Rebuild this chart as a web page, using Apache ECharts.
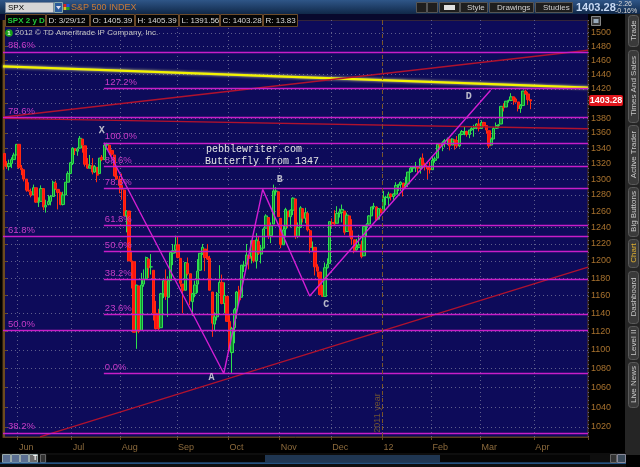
<!DOCTYPE html>
<html><head><meta charset="utf-8">
<script src="https://cdn.jsdelivr.net/npm/echarts@6/dist/echarts.min.js"></script>
<style>html,body{margin:0;padding:0;background:#000;}#c{width:640px;height:467px;}</style>
</head><body><div id="c"></div><script>
// ---- DATA: daily SPX rows [day, open, high, low, close] ----
const may2011=[[23,1333,1333,1312,1317],[24,1317,1323,1313,1316],[25,1316,1325,1311,1320],[26,1320,1328,1314,1325],[27,1325,1334,1325,1331],[31,1331,1345,1331,1345]];
const jun2011=[[1,1345,1345,1313,1315],[2,1314,1318,1305,1312],[3,1312,1312,1297,1300],[6,1300,1300,1284,1286],[7,1286,1296,1284,1285],[8,1284,1288,1277,1280],[9,1280,1293,1280,1289],[10,1289,1289,1270,1271],[13,1271,1277,1265,1271],[14,1272,1292,1272,1288],[15,1288,1288,1261,1265],[16,1265,1274,1258,1267],[17,1268,1280,1267,1272],[20,1272,1280,1267,1278],[21,1278,1298,1278,1296],[22,1295,1298,1286,1288],[23,1287,1287,1262,1283],[24,1283,1284,1267,1268],[27,1268,1284,1267,1280],[28,1280,1296,1280,1296],[29,1296,1310,1296,1307],[30,1307,1322,1307,1321]];
const jul2011=[[1,1320,1341,1318,1340],[5,1339,1340,1331,1337],[6,1336,1341,1330,1339],[7,1340,1356,1340,1353],[8,1352,1352,1334,1344],[11,1343,1343,1316,1319],[12,1319,1327,1313,1314],[13,1314,1331,1314,1317],[14,1317,1327,1306,1309],[15,1309,1318,1308,1316],[18,1315,1315,1296,1305],[19,1307,1327,1307,1327],[20,1328,1331,1323,1325],[21,1325,1347,1325,1344],[22,1344,1347,1338,1345],[25,1344,1344,1331,1337],[26,1337,1338,1330,1332],[27,1331,1331,1303,1304],[28,1304,1316,1299,1300],[29,1300,1304,1282,1292]];
const aug2011=[[1,1292,1307,1274,1287],[2,1286,1287,1254,1254],[3,1254,1261,1234,1260],[4,1260,1260,1200,1200],[5,1200,1212,1168,1199],[8,1199,1199,1119,1119],[9,1121,1172,1101,1172],[10,1171,1171,1118,1120],[11,1121,1186,1121,1172],[12,1173,1190,1170,1179],[15,1179,1205,1179,1204],[16,1202,1203,1180,1192],[17,1193,1208,1184,1193],[18,1189,1189,1132,1140],[19,1140,1154,1122,1123],[22,1124,1145,1121,1123],[23,1124,1163,1124,1162],[24,1162,1178,1157,1177],[25,1177,1190,1155,1159],[26,1158,1182,1136,1177],[29,1177,1210,1177,1210],[30,1209,1220,1195,1212],[31,1213,1230,1209,1219]];
const sep2011=[[1,1219,1229,1203,1204],[2,1203,1203,1170,1174],[6,1173,1173,1140,1166],[7,1166,1198,1166,1198],[8,1197,1204,1183,1185],[9,1185,1185,1149,1154],[12,1153,1163,1137,1162],[13,1162,1177,1158,1172],[14,1173,1202,1163,1188],[15,1189,1209,1189,1209],[16,1209,1220,1207,1216],[19,1214,1214,1188,1204],[20,1205,1220,1201,1202],[21,1203,1206,1166,1166],[22,1164,1164,1114,1129],[23,1128,1141,1121,1136],[26,1136,1164,1132,1162],[27,1163,1195,1163,1175],[28,1175,1184,1150,1151],[29,1151,1175,1140,1160],[30,1159,1159,1131,1131]];
const oct2011=[[3,1131,1138,1099,1099],[4,1097,1125,1075,1123],[5,1124,1146,1107,1144],[6,1144,1165,1134,1164],[7,1166,1171,1150,1155],[10,1158,1195,1158,1195],[11,1194,1200,1187,1195],[12,1196,1220,1196,1207],[13,1206,1207,1190,1203],[14,1205,1224,1197,1224],[17,1224,1224,1198,1200],[18,1200,1233,1191,1225],[19,1223,1229,1207,1209],[20,1208,1219,1197,1215],[21,1215,1239,1215,1238],[24,1239,1256,1239,1254],[25,1252,1252,1226,1229],[26,1230,1246,1221,1242],[27,1244,1293,1244,1285],[28,1284,1290,1280,1285],[31,1284,1284,1253,1253]];
const nov2011=[[1,1251,1251,1215,1219],[2,1219,1242,1219,1237],[3,1238,1264,1228,1262],[4,1260,1260,1239,1253],[7,1253,1262,1240,1261],[8,1261,1277,1255,1276],[9,1275,1275,1226,1229],[10,1229,1246,1227,1240],[11,1240,1266,1240,1264],[14,1263,1263,1246,1251],[15,1251,1264,1245,1258],[16,1257,1259,1235,1237],[17,1236,1238,1209,1216],[18,1216,1223,1211,1216],[21,1216,1216,1183,1193],[22,1193,1196,1181,1188],[23,1187,1187,1161,1161],[25,1162,1172,1159,1159],[28,1159,1198,1159,1192],[29,1192,1203,1191,1196],[30,1197,1247,1197,1247]];
const dec2011=[[1,1246,1251,1240,1245],[2,1246,1261,1243,1244],[5,1245,1266,1245,1257],[6,1257,1263,1252,1259],[7,1258,1268,1246,1262],[8,1260,1260,1231,1234],[9,1235,1258,1235,1255],[12,1254,1254,1228,1236],[13,1236,1250,1219,1226],[14,1225,1225,1209,1212],[15,1213,1226,1212,1216],[16,1216,1231,1215,1219],[19,1219,1224,1203,1205],[20,1206,1242,1206,1241],[21,1241,1245,1229,1243],[22,1244,1255,1243,1254],[23,1254,1265,1254,1265],[27,1265,1270,1262,1266],[28,1265,1266,1248,1249],[29,1250,1263,1250,1263],[30,1262,1264,1257,1258]];
const jan2012=[[3,1259,1285,1259,1277],[4,1277,1279,1267,1277],[5,1276,1284,1266,1281],[6,1281,1282,1273,1278],[9,1278,1282,1274,1281],[10,1281,1296,1281,1292],[11,1292,1294,1285,1293],[12,1293,1297,1285,1296],[13,1295,1295,1278,1289],[17,1291,1303,1290,1293],[18,1294,1309,1290,1309],[19,1309,1316,1308,1314],[20,1314,1315,1309,1315],[23,1315,1322,1309,1316],[24,1315,1315,1306,1314],[25,1314,1328,1307,1326],[26,1327,1333,1314,1318],[27,1318,1321,1311,1316],[30,1316,1316,1300,1313],[31,1314,1322,1307,1312]];
const feb2012=[[1,1312,1330,1312,1324],[2,1324,1329,1321,1326],[3,1327,1345,1327,1345],[6,1344,1345,1338,1344],[7,1344,1349,1336,1347],[8,1348,1352,1341,1350],[9,1350,1354,1344,1352],[10,1352,1352,1337,1343],[13,1344,1353,1344,1352],[14,1351,1351,1338,1350],[15,1350,1356,1340,1343],[16,1343,1359,1341,1358],[17,1358,1364,1357,1362],[21,1362,1368,1357,1362],[22,1362,1363,1355,1358],[23,1358,1364,1353,1364],[24,1364,1368,1363,1366],[27,1366,1371,1355,1368],[28,1368,1373,1365,1372],[29,1372,1379,1362,1366]];
const mar2012=[[1,1366,1377,1366,1374],[2,1374,1375,1368,1370],[5,1370,1370,1359,1364],[6,1363,1363,1340,1343],[7,1344,1354,1344,1352],[8,1352,1368,1352,1366],[9,1366,1374,1366,1370],[12,1370,1372,1366,1371],[13,1372,1396,1372,1396],[14,1395,1400,1389,1394],[15,1395,1403,1395,1403],[16,1404,1405,1401,1404],[19,1404,1414,1403,1409],[20,1409,1409,1398,1405],[21,1406,1408,1401,1402],[22,1402,1402,1389,1393],[23,1393,1399,1387,1397],[26,1397,1417,1397,1417],[27,1417,1419,1412,1413],[28,1413,1416,1398,1405],[29,1405,1405,1392,1403.28]];
const futureDates=['2012-03-30','2012-04-02','2012-04-03','2012-04-04','2012-04-05','2012-04-09','2012-04-10','2012-04-11','2012-04-12','2012-04-13','2012-04-16','2012-04-17','2012-04-18','2012-04-19','2012-04-20','2012-04-23','2012-04-24','2012-04-25','2012-04-26','2012-04-27','2012-04-30','2012-05-01','2012-05-02'];
const yTicks=[1020,1040,1060,1080,1100,1120,1140,1160,1180,1200,1220,1240,1260,1280,1300,1320,1340,1360,1380,1400,1420,1440,1460,1480,1500];
const monthNames=['Jan','Feb','Mar','Apr','May','Jun','Jul','Aug','Sep','Oct','Nov','Dec'];
// Fibonacci levels
const fibLeftPct=['88.6%','78.6%','61.8%','50.0%','38.2%'];
const fibLeftPrice=[1472.43,1381.5,1228.74,1121.44,1014.14];
const fibRightPct=['127.2%','100.0%','88.6%','78.6%','61.8%','50.0%','38.2%','23.6%','0.0%'];
const fibRightPrice=[1421.05,1347,1315.97,1288.74,1243.01,1210.89,1178.76,1139.02,1074.77];
const fibRightStart=40.7; // trading-day position where the right set starts
// Butterfly pattern vertices (trading-day position, price)
const patX=[40.7,89.7,105.6,124.8,198.7];
const patY=[1347,1074.77,1287,1159.5,1418];
const ptNames=['X','A','B','C','D'];
const ptLabelX=[39.8,84.7,112.6,131.6,189.8];
const ptLabelY=[1363.9,1070.1,1299.7,1149.3,1410.0];
// trend lines [x1, price1, x2, price2]
const yellowLine=[-0.5,1451.5,238.5,1421.8];
const redUpper=[-0.1,1381.4,238.5,1474.6];
const redMid=[-0.5,1379.6,238.5,1365.7];
const redLower=[14.6,1010.2,238.5,1192.7];
const yearSep=154.5;

// ---- BUILD ----
const L=Math.log;
const monthsData=[[2011,5,may2011],[2011,6,jun2011],[2011,7,jul2011],[2011,8,aug2011],[2011,9,sep2011],[2011,10,oct2011],[2011,11,nov2011],[2011,12,dec2011],[2012,1,jan2012],[2012,2,feb2012],[2012,3,mar2012]];
const pad=n=>(n<10?'0':'')+n;
const categories=[],candles=[];
monthsData.forEach(([y,m,rows])=>rows.forEach(r=>{categories.push(y+'-'+pad(m)+'-'+pad(r[0]));candles.push([L(r[1]),L(r[4]),L(r[3]),L(r[2])]);}));
futureDates.forEach(d=>categories.push(d));
const N=categories.length;
const isMonthStart=(i)=>i>0&&i<N-4&&categories[i].slice(0,7)!==categories[i-1].slice(0,7);
const yMin=L(1010),yMax=L(1519);
const brown='#6b4a1f';
const FIB='#c81ec8', FIBT='#c83cc8';
const fibLines=[];
function addFib(xs,price,pct,pctDist){
  fibLines.push([{coord:[xs,L(price)],lineStyle:{color:FIB,width:1.4,type:'solid'},label:{show:true,position:'insideStartTop',formatter:pct,color:FIBT,fontSize:9.5,fontFamily:'Liberation Sans',distance:[pctDist,1]}},{coord:[N-0.5,L(price)]}]);
  fibLines.push([{coord:[xs,L(price)],lineStyle:{opacity:0},label:{show:true,position:'insideEndTop',formatter:'$'+price,color:FIBT,fontSize:9.5,fontFamily:'Liberation Sans',distance:[8,1]}},{coord:[N-0.5,L(price)]}]);
}
fibLeftPrice.forEach((p,i)=>addFib(-0.5,p,fibLeftPct[i],5));
fibRightPrice.forEach((p,i)=>addFib(fibRightStart,p,fibRightPct[i],1));
fibLines.push([{coord:[yearSep,yMin],lineStyle:{color:'#7a5424',width:1,type:[4,3]},label:{show:false}},{coord:[yearSep,yMax]}]);

const seg=(a)=>[[a[0],L(a[1])],[a[2],L(a[3])]];
const lineSeries=(a,style)=>({type:'line',xAxisIndex:1,yAxisIndex:0,data:seg(a),symbol:'none',silent:true,lineStyle:style,z:4});

// ---- GRAPHIC (UI chrome) ----
const G=[];
function rect(x,y,w,h,fill,stroke,r,z){G.push({type:'rect',shape:{x:x,y:y,width:w,height:h,r:r||0},style:{fill:fill,stroke:stroke||null,lineWidth:1},z:z||100,silent:true});}
function text(x,y,t,fill,font,align,rot,z){G.push({type:'text',x:x,y:y,rotation:rot||0,style:{text:t,fill:fill,font:font,textAlign:align||'left',textVerticalAlign:'middle'},z:z||101,silent:true});}
// top bar
G.push({type:'rect',shape:{x:0,y:0,width:640,height:14},style:{fill:new echarts.graphic.LinearGradient(0,0,0,1,[{offset:0,color:'#2f5688'},{offset:1,color:'#102848'}])},z:100,silent:true});
rect(5.5,2.5,48,10,'#d6d6d6','#7a8aa0');
text(8,7.8,'SPX','#000','8px Liberation Sans');
rect(54.5,2.5,8,10,'#2b5c9c','#8aa');
G.push({type:'polygon',shape:{points:[[56,6],[61,6],[58.5,9.5]]},style:{fill:'#dde'},z:102,silent:true});
rect(63.5,4,3,3,'#e02020');rect(66.5,4,3,3,'#2050e0');rect(63.5,7,3,3,'#e0c020');rect(66.5,7,3,3,'#20a020');
text(71,7.8,'S&P 500 INDEX','#c97a38','9px Liberation Sans');
rect(416.5,2.5,10,10,'#1e1e1e','#555');rect(427.5,2.5,10,10,'#1e1e1e','#555');
rect(439.5,2.5,20,10,'#1e1e1e','#555');rect(444,5,11,5,'#e0e0e0');
rect(460.5,2.5,27,10,'#1e1e1e','#555');text(467,7.8,'Style','#d0d0d0','8px Liberation Sans');
rect(489.5,2.5,44,10,'#1e1e1e','#555');text(497,7.8,'Drawings','#d0d0d0','8px Liberation Sans');
rect(535.5,2.5,37,10,'#1e1e1e','#555');text(543,7.8,'Studies','#d0d0d0','8px Liberation Sans');
text(576,7.5,'1403.28','#c8daf4','bold 11px Liberation Sans');
text(616,4,'-2.26','#d8d8d8','7px Liberation Sans');
text(615,11,'-0.16%','#d8d8d8','7px Liberation Sans');
// band + info boxes
rect(0,14,588,6,'#08082c',null,0,90);
const boxes=[[5,45,'SPX 2 y D'],[46,89,'D: 3/29/12'],[90,134,'O: 1405.39'],[135,178,'H: 1405.39'],[179,219,'L: 1391.56'],[220,262,'C: 1403.28'],[263,297,'R: 13.83']];
boxes.forEach((b,i)=>{rect(b[0]+0.5,14.5,b[1]-b[0],12,'#050505','#6b4a2a');text(b[0]+2.5,21,b[2],i===0?'#22c83a':'#d8d8d8',i===0?'bold 8px Liberation Sans':'8px Liberation Sans');});
G.push({type:'circle',shape:{cx:9,cy:33,r:3.8},style:{fill:'#1aa01a'},z:100,silent:true});
text(9,33.3,'1','#fff','bold 6px Liberation Sans','center');
text(15,33,'2012 © TD Ameritrade IP Company, Inc.','#c4c4c4','8px Liberation Sans');
// right axis top icon
rect(591.5,16.5,9,9,'#3a3a3a','#888');rect(593.5,19,5,4,'#9ab');
// price tag
rect(589,95,34,11,'#e0161c',null,2);
text(606,100.8,'1403.28','#ffffff','bold 9px Liberation Sans','center');
// right tabs
rect(625,14,15,441,'#252525',null,0,95);
const tabs=[['Trade',15,46],['Times And Sales',50,122],['Active Trader',125,184],['Big Buttons',187,236],['Chart',239,267],['Dashboard',271,323],['Level II',326,359],['Live News',362,407]];
tabs.forEach(t=>{rect(628.5,t[1]+0.5,10,t[2]-t[1],'#3a3a3a','#5a5a5a',3);text(633.8,(t[1]+t[2])/2,t[0],t[0]==='Chart'?'#e0b030':'#c8c8c8','8px Liberation Sans','center',Math.PI/2,102);});
// bottom scroll bar
rect(0,453,626,14,'#0e0e0e',null,0,95);
[[2,'#5a6f92'],[11,'#5a6f92'],[20,'#5a6f92'],[29,'#6a6a6a']].forEach(a=>rect(a[0]+0.5,454.5,8,8,a[1],'#9aa'));
text(33,458.5,'T','#fff','bold 7px Liberation Sans');
rect(40.5,454.5,5,8,'#333','#666');
rect(47,455,543,7,'#050505');
rect(265,455,175,7,'#1f3652');
rect(0,462.5,626,1.2,'#2d6aa8');
rect(610.5,454.5,6,8,'#333','#666');rect(617.5,454.5,8,8,'#3a4a5a','#889');
// annotations
text(254,149,'pebblewriter.com','#e4e4e4','10px Liberation Mono','center');
text(262,161,'Butterfly from 1347','#e4e4e4','10px Liberation Mono','center');
text(378,413,'2011 year','#6e5232','9px Liberation Sans','center',Math.PI/2,50);

const option={
  backgroundColor:'#000',
  animation:false,
  grid:{left:3,right:52,top:20,bottom:30,show:true,backgroundColor:'#0d0b5a',borderColor:'#5a3e1a',borderWidth:1},
  xAxis:[{type:'category',data:categories,boundaryGap:true,
    axisLine:{lineStyle:{color:'#5a3e1a'}},
    axisTick:{show:true,interval:(i)=>isMonthStart(i),length:3,lineStyle:{color:brown}},
    axisLabel:{interval:(i)=>isMonthStart(i),formatter:(v)=>{const m=+v.slice(5,7);return m===1?v.slice(2,4):monthNames[m-1];},color:'#8c6a3c',fontSize:9,fontFamily:'Liberation Sans',align:'left',margin:6},
    splitLine:{show:true,interval:(i)=>isMonthStart(i),lineStyle:{color:'#5e5e8c',type:[1,3],width:1}}},
    {type:'value',min:-0.5,max:N-0.5,show:false}],
  yAxis:[{type:'value',position:'right',min:yMin,max:yMax,
    axisLine:{show:true,lineStyle:{color:brown}},
    axisTick:{show:true,customValues:yTicks.map(L),length:3,lineStyle:{color:brown}},
    axisLabel:{customValues:yTicks.map(L),formatter:(v)=>String(Math.round(Math.exp(v))),color:'#a8722e',fontSize:9,fontFamily:'Liberation Sans',margin:3},
    splitLine:{show:true,lineStyle:{color:'#5e5e8c',type:[1,3],width:1}}},
    {type:'value',position:'left',min:yMin,max:yMax,
    axisLine:{show:true,lineStyle:{color:brown}},
    axisTick:{show:true,inside:true,customValues:yTicks.map(L),length:3,lineStyle:{color:brown}},
    axisLabel:{show:false},splitLine:{show:false}}],
  graphic:{elements:G},
  series:[
    {type:'candlestick',xAxisIndex:0,yAxisIndex:0,data:candles,barWidth:2.8,z:3,
      itemStyle:{color:'#118a30',color0:'#ff1010',borderColor:'#2ee04e',borderColor0:'#ff2a10',borderWidth:1}},
    lineSeries(yellowLine,{color:'#f4f400',width:2.2,shadowColor:'rgba(255,255,150,0.9)',shadowBlur:3}),
    lineSeries(redUpper,{color:'#b0122e',width:1.4}),
    lineSeries(redMid,{color:'#b0122e',width:1.4}),
    lineSeries(redLower,{color:'#b0122e',width:1.4}),
    {type:'line',xAxisIndex:1,yAxisIndex:0,data:patX.map((x,i)=>[x,L(patY[i])]),symbol:'none',silent:true,z:5,
      lineStyle:{color:'#d21ed2',width:1.4},
      markLine:{silent:true,symbol:['none','none'],animation:false,data:fibLines}},
    {type:'scatter',xAxisIndex:1,yAxisIndex:0,symbolSize:0.1,silent:true,z:6,
      itemStyle:{color:'rgba(0,0,0,0)'},
      data:ptNames.map((n,i)=>({name:n,value:[ptLabelX[i],L(ptLabelY[i])]})),
      label:{show:true,position:'inside',formatter:'{b}',color:'#e6e6e6',fontSize:10,fontWeight:'bold',fontFamily:'Liberation Mono'}}
  ]
};
const chart=echarts.init(document.getElementById('c'),null,{renderer:'canvas',width:640,height:467});
chart.setOption(option);
</script></body></html>
